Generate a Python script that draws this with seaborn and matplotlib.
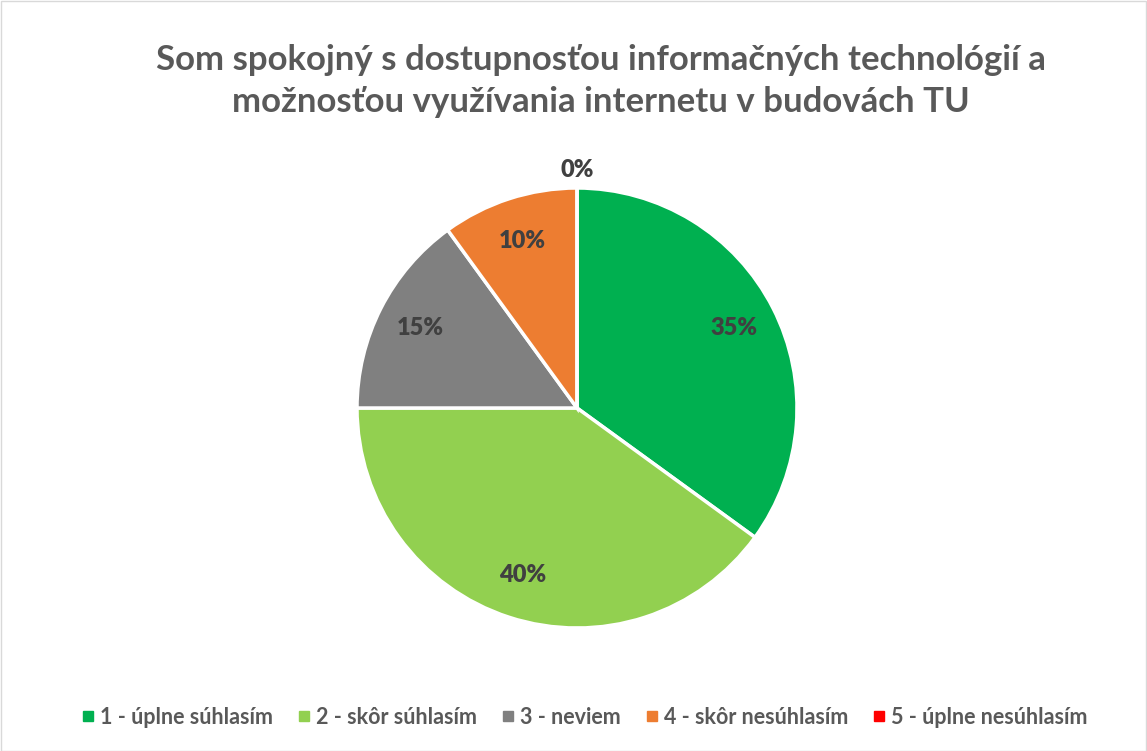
import numpy as np
import seaborn as sns
import matplotlib.pyplot as plt
from matplotlib.patches import Rectangle
from matplotlib.lines import Line2D

categories = ["1 - úplne súhlasím", "2 - skôr súhlasím", "3 - neviem",
              "4 - skôr nesúhlasím", "5 - úplne nesúhlasím"]
shares = [35, 40, 15, 10, 0]
colors = ["#00B050", "#92D050", "#808080", "#ED7D31", "#FF0000"]
title = "Som spokojný s dostupnosťou informačných technológií a\nmožnosťou využívania internetu v budovách TU"

sns.set_theme(style="white")
plt.rcParams['font.family'] = ['Lato', 'DejaVu Sans']

W, H = 1147, 751
fig = plt.figure(figsize=(W / 100, H / 100), dpi=100)
fig.patch.set_facecolor("white")

# pie area: center (577, 408), radius 220 px
cx, cy, r = 577, 408, 220
ax = fig.add_axes([(cx - r) / W, (H - cy - r) / H, 2 * r / W, 2 * r / H])

wedges, texts, autotexts = ax.pie(
    shares, colors=colors, startangle=90, counterclock=False,
    autopct=lambda p: f"{p:.0f}%", pctdistance=0.8,
    wedgeprops=dict(edgecolor="white", linewidth=2.5),
    textprops=dict(fontsize=17, fontweight="heavy", color="#404040"),
)
# zero slice label sits outside the pie
for w, t, v in zip(wedges, autotexts, shares):
    if v == 0:
        ang = np.deg2rad((w.theta1 + w.theta2) / 2)
        t.set_position((1.03 * np.cos(ang), 1.03 * np.sin(ang)))
        t.set_va("bottom")
ax.set_xlim(-1, 1)
ax.set_ylim(-1, 1)
ax.set_aspect("equal")
ax.axis("off")

fig.text(601 / W, 1 - 81 / H, title, ha="center", va="center",
         fontsize=25, fontweight="bold", color="#595959", linespacing=1.4)

handles = [Line2D([], [], marker="s", linestyle="none", markersize=7,
                  markerfacecolor=c, markeredgecolor=c) for c in colors]
fig.legend(handles, categories, loc="center", bbox_to_anchor=(583 / W, 1 - 717 / H),
           ncol=5, frameon=False, handletextpad=0.1, columnspacing=1.0,
           prop=dict(size=15.5, weight="bold"), labelcolor="#595959",
           handlelength=0.9)

fig.add_artist(Rectangle((0.5 / W, 0.5 / H), 1 - 1.5 / W, 1 - 1.5 / H,
                         transform=fig.transFigure, fill=False,
                         edgecolor="#D9D9D9", linewidth=1))

fig.savefig("out.png", dpi=100)
